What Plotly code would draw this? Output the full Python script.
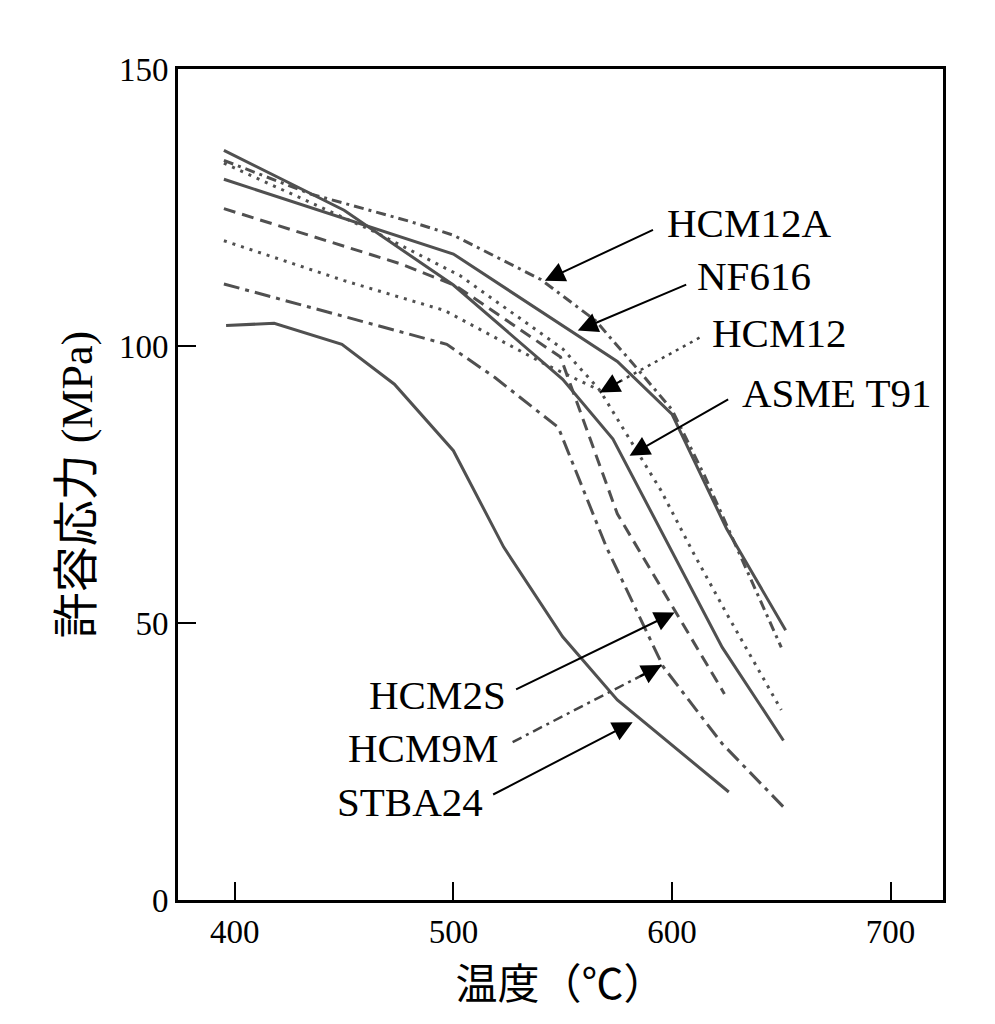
import plotly.graph_objects as go

# allowable stress vs temperature
hcm12a_t = [395, 435, 480, 500, 540, 565, 585, 600, 615, 650]
hcm12a_s = [133.5, 127.4, 122.5, 120.0, 112.0, 104.6, 95.5, 88.5, 76.5, 45.6]

nf616_t = [395, 500, 575, 600, 625, 652]
nf616_s = [130.1, 116.6, 97.2, 87.7, 67.0, 48.7]

hcm12_t = [395, 463, 503, 550, 567, 580, 595, 610, 625, 650]
hcm12_s = [133.0, 120.8, 112.7, 99.5, 92.0, 83.5, 73.9, 62.5, 51.7, 34.3]

hcm12_low_t = [395, 450, 496, 542, 567]
hcm12_low_s = [119.0, 111.8, 106.4, 96.7, 92.0]

t91_t = [395, 450, 500, 550, 573, 623, 651]
t91_s = [135.3, 124.5, 111.0, 94.0, 83.2, 45.6, 28.8]

hcm2s_t = [395, 476, 501, 549, 575, 602, 624]
hcm2s_s = [124.8, 114.8, 110.9, 98.0, 69.7, 51.7, 37.2]

hcm9m_t = [395, 497, 519, 548, 570, 596, 623, 651]
hcm9m_s = [111.2, 100.3, 94.3, 85.3, 63.7, 42.1, 28.2, 16.8]

stba24_t = [396, 418, 449, 473, 500, 523, 550, 575, 626]
stba24_s = [103.7, 104.1, 100.3, 93.1, 81.1, 63.7, 47.5, 36.1, 19.5]

x_ticks = [400, 500, 600, 700]
y_ticks = [0, 50, 100, 150]

GRAY = "#505050"
SERIF = "Liberation Serif"

curves = [
    ("HCM12A", hcm12a_t, hcm12a_s, "10px,5px,3px,5px"),
    ("NF616", nf616_t, nf616_s, "solid"),
    ("HCM12", hcm12_t, hcm12_s, "3px,6px"),
    ("HCM12 ", hcm12_low_t, hcm12_low_s, "3px,6px"),
    ("ASME T91", t91_t, t91_s, "solid"),
    ("HCM2S", hcm2s_t, hcm2s_s, "12px,7px"),
    ("HCM9M", hcm9m_t, hcm9m_s, "16px,6px,4px,6px"),
    ("STBA24", stba24_t, stba24_s, "solid"),
]

fig = go.Figure()
for name, t, s, dash in curves:
    fig.add_trace(go.Scatter(x=t, y=s, mode="lines", name=name,
                             line=dict(color=GRAY, width=3, dash=dash)))

# labels: (text, text x, text y, anchor, tail x, tail y, head x, head y, leader style)
labels = [
    ("HCM12A", 596.6, 122.2, "left", 592.0, 121.1, 541.8, 111.8, "solid"),
    ("NF616", 610.4, 112.7, "left", 607.2, 111.2, 556.9, 102.8, "solid"),
    ("HCM12", 617.2, 102.4, "left", 612.6, 101.5, 566.9, 91.6, "dot"),
    ("ASME T91", 631.0, 91.6, "left", 626.4, 90.5, 580.6, 80.2, "solid"),
    ("HCM2S", 524.8, 37.0, "right", 528.0, 37.9, 601.2, 51.9, "solid"),
    ("HCM9M", 521.2, 27.4, "right", 527.1, 28.5, 595.3, 42.4, "dashdot"),
    ("STBA24", 514.3, 17.7, "right", 517.5, 18.9, 582.0, 32.1, "solid"),
]

for text, tx, ty, anchor, x0, y0, x1, y1, style in labels:
    fig.add_annotation(x=tx, y=ty, text=text, showarrow=False, xanchor=anchor,
                       yanchor="middle", font=dict(family=SERIF, size=41, color="black"))
    if style == "solid":
        fig.add_annotation(x=x1, y=y1, ax=x0, ay=y0, axref="x", ayref="y", text="",
                           showarrow=True, arrowhead=2, arrowsize=2, arrowwidth=2,
                           arrowcolor="black")
    else:
        dash = "3px,5px" if style == "dot" else "10px,5px,3px,5px"
        fig.add_shape(type="line", x0=x0, y0=y0, x1=x1, y1=y1,
                      line=dict(color="#444444", width=2.5, dash=dash))
        # short arrow for the head only
        dx = (x0 - x1) * 2.1867
        dy = -(y0 - y1) * 5.547
        ln = (dx ** 2 + dy ** 2) ** 0.5
        fig.add_annotation(x=x1, y=y1, ax=dx / ln * 26, ay=dy / ln * 26, text="",
                           showarrow=True, arrowhead=2, arrowsize=2, arrowwidth=2,
                           arrowcolor="black")

fig.update_xaxes(range=[374, 724], tickvals=x_ticks, ticks="inside", ticklen=18,
                 tickwidth=2, tickcolor="black", showline=True, linewidth=3,
                 linecolor="black", mirror=True, showgrid=False, zeroline=False,
                 tickfont=dict(family=SERIF, size=33, color="black"),
                 title=dict(text="温度（℃）", standoff=10,
                            font=dict(family="Noto Sans CJK JP", size=42, color="black")))
fig.update_yaxes(range=[0, 150], tickvals=y_ticks, ticks="inside", ticklen=18,
                 tickwidth=2, tickcolor="black", showline=True, linewidth=3,
                 linecolor="black", mirror=True, showgrid=False, zeroline=False,
                 tickfont=dict(family=SERIF, size=33, color="black"),
                 title=dict(text="許容応力<span style='font-family:Liberation Serif;font-size:44px'> (MPa)</span>",
                            standoff=12,
                            font=dict(family="Noto Sans CJK JP", size=46, color="black")))

fig.update_layout(width=995, height=1024, showlegend=False,
                  plot_bgcolor="white", paper_bgcolor="white",
                  margin=dict(l=170, r=60, t=61, b=132))

fig.write_html("out.html")
